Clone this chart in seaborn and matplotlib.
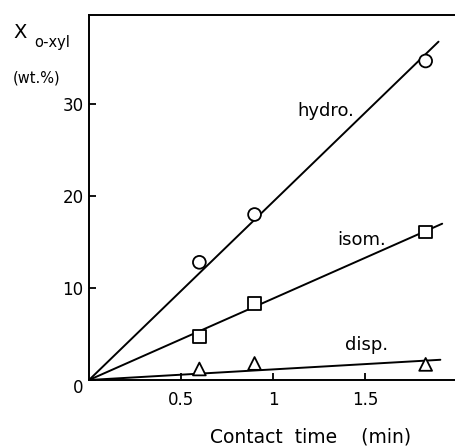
import matplotlib
matplotlib.use("Agg")
import matplotlib.pyplot as plt
import seaborn as sns
import pandas as pd

# Data
contact_time = [0.6, 0.9, 1.83]
hydro = [12.8, 18.0, 34.7]
isom = [4.7, 8.3, 16.1]
disp = [1.2, 1.8, 1.7]

# straight fitted lines (start, end) as drawn
line_x = {"hydro": [0.0, 1.90], "isom": [0.0, 1.92], "disp": [0.0, 1.91]}
line_y = {"hydro": [0.0, 36.8], "isom": [0.0, 17.0], "disp": [0.0, 2.2]}

series_names = ["hydro", "isom", "disp"]
values = {"hydro": hydro, "isom": isom, "disp": disp}

rows = []
for s in series_names:
    for x, y in zip(contact_time, values[s]):
        rows.append({"t": x, "X": y, "series": s})
df = pd.DataFrame(rows)

lrows = []
for s in series_names:
    for x, y in zip(line_x[s], line_y[s]):
        lrows.append({"t": x, "X": y, "series": s})
ldf = pd.DataFrame(lrows)

sns.set_style("white")
plt.rcParams["font.family"] = ["DejaVu Sans"]
plt.rcParams["text.color"] = "black"

fig = plt.figure(figsize=(4.56, 4.47), dpi=100)
ax = fig.add_axes([89/456, 1 - 380/447, (456 - 89)/456, (380 - 15)/447])

sns.lineplot(data=ldf, x="t", y="X", units="series", estimator=None,
             color="black", lw=1.4, ax=ax, legend=False)
sns.scatterplot(data=df, x="t", y="X", style="series",
                markers={"hydro": "o", "isom": "s", "disp": "^"},
                s=85, facecolor="white", edgecolor="black", linewidth=1.3,
                ax=ax, legend=False, zorder=3)

ax.set_xlim(0, 1.995)
ax.set_ylim(0, 39.7)
ax.set_xticks([0.5, 1, 1.5])
ax.set_xticklabels(["0.5", "1", "1.5"])
ax.set_yticks([0, 10, 20, 30])
ax.set_yticklabels(["", "10", "20", "30"])
ax.tick_params(direction="in", length=5, width=1.3, colors="black",
               labelcolor="black", labelsize=12, bottom=True, left=True, pad=4)
ax.tick_params(axis="x", pad=8)
for sp in ["left", "bottom", "top"]:
    ax.spines[sp].set_visible(True)
    ax.spines[sp].set_color("black")
    ax.spines[sp].set_linewidth(1.4)
ax.spines["right"].set_visible(False)
ax.set_xlabel("")
ax.set_ylabel("")

# origin label
fig.text(78/456, 1 - 388/447, "0", fontsize=12, ha="center", va="center")

ax.text(1.29, 29.3, "hydro.", fontsize=13, ha="center", va="center")
ax.text(1.48, 15.2, "isom.", fontsize=13, ha="center", va="center")
ax.text(1.51, 3.8, "disp.", fontsize=13, ha="center", va="center")

fig.text(20/456, 1 - 33/447, "X", fontsize=14, ha="center", va="center")
fig.text(52/456, 1 - 43/447, "o-xyl", fontsize=10.5, ha="center", va="center")
fig.text(37/456, 1 - 78/447, "(wt.%)", fontsize=10.5, ha="center", va="center")
fig.text(311/456, 1 - 437/447, "Contact  time    (min)", fontsize=13.5,
         ha="center", va="center")

fig.savefig("out.png", dpi=100)
